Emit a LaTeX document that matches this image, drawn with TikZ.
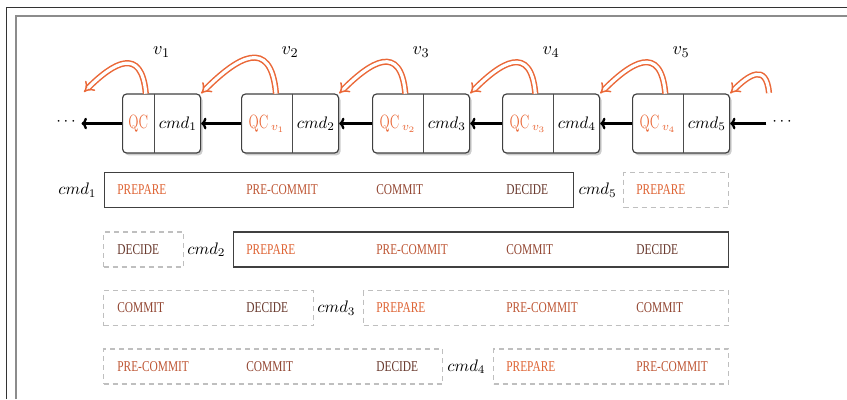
\documentclass[tikz,border=0pt]{standalone}
\usepackage{graphicx}
\usepackage{fontspec}
\newfontfamily\phasefont{Liberation Serif}
\usetikzlibrary{positioning,arrows.meta,shadows}

\definecolor{qcorange}{RGB}{234,104,56}
\definecolor{prepcol}{RGB}{222,98,50}
\definecolor{precol}{RGB}{190,86,52}
\definecolor{commitcol}{RGB}{146,70,50}
\definecolor{decidecol}{RGB}{104,56,44}

\newcommand{\ph}[1]{\scalebox{0.76}[1]{#1}}
\newcommand{\qc}{\scalebox{0.7}[1]{\fontsize{11.5}{12}\selectfont QC}}

\tikzset{
  blk/.style={draw=black!75, fill=white, rounded corners=2.4pt, line width=0.7pt,
    minimum height=35.4pt, inner sep=0pt,
    drop shadow={shadow xshift=1.2pt, shadow yshift=-1.4pt, opacity=0.4}},
  part/.style={minimum height=35.4pt, inner sep=0pt},
  bar/.style={draw=black!75, line width=0.75pt, minimum height=21pt, inner sep=0pt, anchor=west},
  ghost/.style={draw=black!25, dash pattern=on 3pt off 2.4pt, line width=0.75pt,
    minimum height=21pt, inner sep=0pt, anchor=west},
  phase/.style={anchor=west, inner sep=0pt, font=\phasefont\fontsize{9}{10}\selectfont},
  link/.style={-{To[length=3.2pt,width=7pt]}, line width=1.4pt},
  vote/.style={draw=qcorange, line width=0.9pt, double=white, double distance=1.9pt,
    -{Implies}, out=95, in=45, out looseness=2, in looseness=1.7},
  vlabel/.style={font=\fontsize{11}{12}\selectfont}
}

\begin{document}
\begin{tikzpicture}[x=0.6pt, y=0.6pt]
  \useasboundingbox (0,0) rectangle (847,-399);
  % frame of the page
  \draw[black!80, line width=0.6pt] (6,-399) -- (6,-7) -- (847,-7);
  \draw[black!45, line width=0.9pt] (16,-399) -- (16,-16) -- (847,-16);

  % chain of blocks
  \node[blk, minimum width=46.8pt, anchor=west] (b1) at (122,-123.5) {};
  \node[part, minimum width=19.2pt, anchor=west] (q1) at (b1.west) {\textcolor{qcorange}{\qc}};
  \node[part, minimum width=27.6pt, anchor=east] (c1) at (b1.east) {$cmd_1$};
  \draw[black!70, line width=0.6pt] (q1.north east) -- (q1.south east);

  \node[blk, minimum width=58.2pt, anchor=west] (b2) at (241,-123.5) {};
  \node[part, minimum width=30.6pt, anchor=west] (q2) at (b2.west) {\color{qcorange}\qc\,$_{v_1}$};
  \node[part, minimum width=27.6pt, anchor=east] (c2) at (b2.east) {$cmd_2$};
  \draw[black!70, line width=0.6pt] (q2.north east) -- (q2.south east);

  \node[blk, minimum width=58.2pt, anchor=west] (b3) at (372,-123.5) {};
  \node[part, minimum width=30.6pt, anchor=west] (q3) at (b3.west) {\color{qcorange}\qc\,$_{v_2}$};
  \node[part, minimum width=27.6pt, anchor=east] (c3) at (b3.east) {$cmd_3$};
  \draw[black!70, line width=0.6pt] (q3.north east) -- (q3.south east);

  \node[blk, minimum width=58.2pt, anchor=west] (b4) at (502,-123.5) {};
  \node[part, minimum width=30.6pt, anchor=west] (q4) at (b4.west) {\color{qcorange}\qc\,$_{v_3}$};
  \node[part, minimum width=27.6pt, anchor=east] (c4) at (b4.east) {$cmd_4$};
  \draw[black!70, line width=0.6pt] (q4.north east) -- (q4.south east);

  \node[blk, minimum width=58.2pt, anchor=west] (b5) at (632,-123.5) {};
  \node[part, minimum width=30.6pt, anchor=west] (q5) at (b5.west) {\color{qcorange}\qc\,$_{v_4}$};
  \node[part, minimum width=27.6pt, anchor=east] (c5) at (b5.east) {$cmd_5$};
  \draw[black!70, line width=0.6pt] (q5.north east) -- (q5.south east);

  \node (dl) at (66,-122) {$\cdots$};
  \node (dr) at (782,-122) {$\cdots$};

  \node[vlabel, above=18pt of b1] (v1) {$v_1$};
  \node[vlabel, above=18pt of b2] (v2) {$v_2$};
  \node[vlabel, above=18pt of b3] (v3) {$v_3$};
  \node[vlabel, above=18pt of b4] (v4) {$v_4$};
  \node[vlabel, above=18pt of b5] (v5) {$v_5$};

  \draw[link] (b1.west) -- (b1.west -| dl.east);
  \draw[link] (b2.west) -- (b1.east);
  \draw[link] (b3.west) -- (b2.east);
  \draw[link] (b4.west) -- (b3.east);
  \draw[link] (b5.west) -- (b4.east);
  \draw[link] (b5.east -| dr.west) -- (b5.east);

  % votes pointing back
  \coordinate (prev) at (84,-92);
  \coordinate (next) at (769,-93);
  \draw[vote] ([xshift=4.5pt]q1.north) to (prev);
  \draw[vote] ([xshift=5.5pt]q2.north) to (b1.north east);
  \draw[vote] ([xshift=4.5pt]q3.north) to (b2.north east);
  \draw[vote] ([xshift=4.5pt]q4.north) to (b3.north east);
  \draw[vote] ([xshift=4.5pt]q5.north) to (b4.north east);
  \draw[vote] (next) to (b5.north east);

  % phases of cmd1
  \node[bar, minimum width=281.4pt] (r1) at (104,-190) {};
  \node[left=1pt of r1] (l1) {$cmd_1$};
  \node[phase, text=prepcol] (p1a) at (117,-190) {\ph{PREPARE}};
  \node[phase, text=precol] (p1b) at (246,-190) {\ph{PRE-COMMIT}};
  \node[phase, text=commitcol] (p1c) at (376,-190) {\ph{COMMIT}};
  \node[phase, text=decidecol] (p1d) at (506,-190) {\ph{DECIDE}};
  \node[ghost, minimum width=63pt] (r5) at (623,-190) {};
  \node[left=0.3pt of r5] (l5) {$cmd_5$};
  \node[phase, text=prepcol] (p5a) at (636,-190) {\ph{PREPARE}};

  % phases of cmd2
  \node[ghost, minimum width=48pt] (r1x) at (103,-249.5) {};
  \node[phase, text=decidecol] (p1x) at (117,-249.5) {\ph{DECIDE}};
  \node[bar, minimum width=297pt] (r2) at (233,-249.5) {};
  \node[left=1pt of r2] (l2) {$cmd_2$};
  \node[phase, text=prepcol] (p2a) at (246,-249.5) {\ph{PREPARE}};
  \node[phase, text=precol] (p2b) at (376,-249.5) {\ph{PRE-COMMIT}};
  \node[phase, text=commitcol] (p2c) at (506,-249.5) {\ph{COMMIT}};
  \node[phase, text=decidecol] (p2d) at (636,-249.5) {\ph{DECIDE}};

  % phases of cmd3
  \node[ghost, minimum width=126pt] (r2x) at (103,-308) {};
  \node[phase, text=commitcol] (p2x) at (117,-308) {\ph{COMMIT}};
  \node[phase, text=decidecol] (p2y) at (246,-308) {\ph{DECIDE}};
  \node[ghost, minimum width=219pt] (r3) at (363,-308) {};
  \node[left=1pt of r3] (l3) {$cmd_3$};
  \node[phase, text=prepcol] (p3a) at (376,-308) {\ph{PREPARE}};
  \node[phase, text=precol] (p3b) at (506,-308) {\ph{PRE-COMMIT}};
  \node[phase, text=commitcol] (p3c) at (636,-308) {\ph{COMMIT}};

  % phases of cmd4
  \node[ghost, minimum width=203.4pt] (r3x) at (103,-366.5) {};
  \node[phase, text=precol] (p3x) at (117,-366.5) {\ph{PRE-COMMIT}};
  \node[phase, text=commitcol] (p3y) at (246,-366.5) {\ph{COMMIT}};
  \node[phase, text=decidecol] (p3z) at (376,-366.5) {\ph{DECIDE}};
  \node[ghost, minimum width=141pt] (r4) at (493,-366.5) {};
  \node[left=1pt of r4] (l4) {$cmd_4$};
  \node[phase, text=prepcol] (p4a) at (506,-366.5) {\ph{PREPARE}};
  \node[phase, text=precol] (p4b) at (636,-366.5) {\ph{PRE-COMMIT}};
\end{tikzpicture}
\end{document}
